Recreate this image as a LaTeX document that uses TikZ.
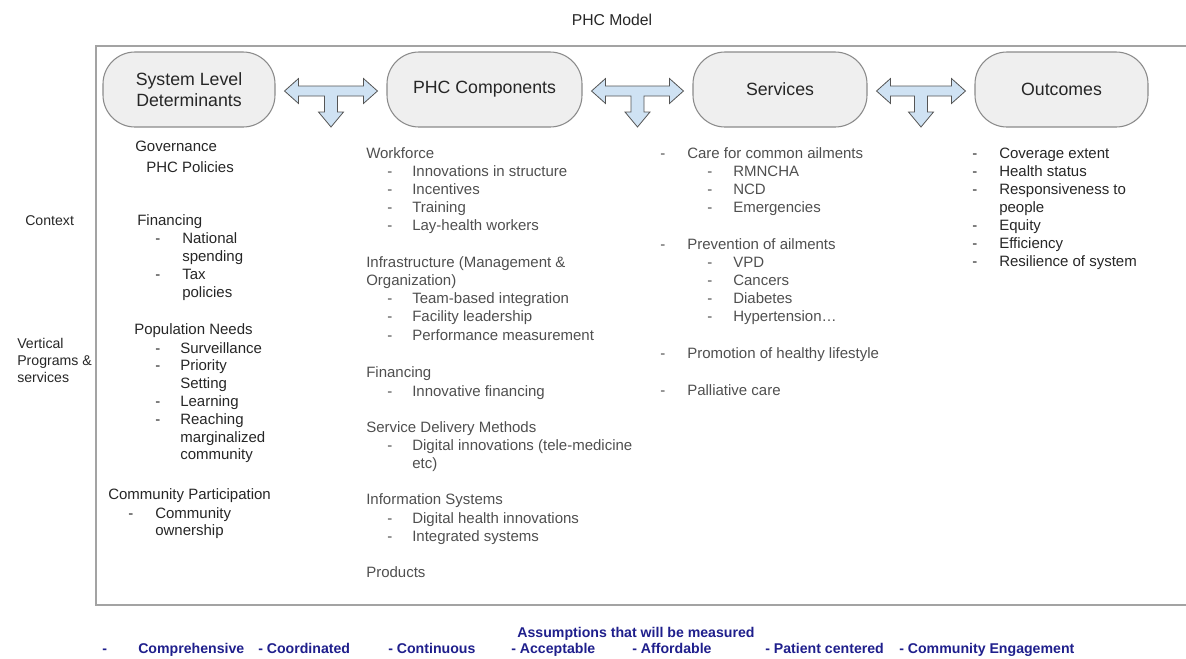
\documentclass[tikz,border=0pt]{standalone}
\usepackage{fontspec}
\setmainfont{Liberation Sans}
\usetikzlibrary{calc}

\definecolor{ink}{HTML}{262626}
\definecolor{soft}{HTML}{4F4F4F}
\definecolor{dashgray}{HTML}{8C8C8C}
\definecolor{framegray}{HTML}{A3A3A3}
\definecolor{pillfill}{HTML}{EFEFEF}
\definecolor{pillline}{HTML}{8A8A8A}
\definecolor{arrowfill}{HTML}{CFE2F3}
\definecolor{arrowline}{HTML}{555555}
\definecolor{navy}{HTML}{1F1F8C}

\tikzset{
  pill/.style={draw=pillline, fill=pillfill, line width=0.8pt, rounded corners=24pt,
    minimum height=56.25pt, inner sep=0pt, align=center, text=ink,
    font=\fontsize{13.3}{15.8}\selectfont},
  txt/.style={anchor=base west, inner sep=0pt, text=ink, font=\fontsize{11.25}{13.5}\selectfont},
  side/.style={txt, font=\fontsize{10.6}{12.7}\selectfont},
  stxt/.style={txt, text=soft},
  sdash/.style={txt, text=dashgray},
  title/.style={anchor=base, inner sep=0pt, text=ink, font=\fontsize{11.8}{14}\selectfont},
  note/.style={anchor=base west, inner sep=0pt, text=navy, font=\bfseries\fontsize{10.6}{12.7}\selectfont},
  tarrow/.style={draw=arrowline, fill=arrowfill, line width=0.6pt, line join=miter},
  frame/.style={draw=framegray, line width=1.1pt}
}

% double-headed link between two stages, with a branch pointing down
\newcommand\linkarrow[2]{%
  \coordinate (#1#2L) at ($(#1.east)+(9,1.5)$);
  \coordinate (#1#2R) at ($(#2.west)+(-9,1.5)$);
  \coordinate (#1#2M) at ($(#1#2L)!0.5!(#1#2R)$);
  \draw[tarrow] (#1#2L) -- ($(#1#2L)+(14,-12.5)$) -- ($(#1#2L)+(14,-5)$)
    -- ($(#1#2R)+(-14,-5)$) -- ($(#1#2R)+(-14,-12.5)$) -- (#1#2R)
    -- ($(#1#2R)+(-14,12.5)$) -- ($(#1#2R)+(-14,5)$)
    -- ($(#1#2M)+(6.5,5)$) -- ($(#1#2M)+(6.5,21)$) -- ($(#1#2M)+(12.5,21)$)
    -- ($(#1#2M)+(0,36)$) -- ($(#1#2M)+(-12.5,21)$) -- ($(#1#2M)+(-6.5,21)$)
    -- ($(#1#2M)+(-6.5,5)$) -- ($(#1#2L)+(14,5)$) -- ($(#1#2L)+(14,12.5)$) -- cycle;
}

% a list line: dash, then its text
\newcommand\dashline[6]{%
  \node[#1] (#2d) at (#3,#5) {-};
  \node[#1] (#2) at (#4,#5) {#6};
}

\begin{document}
\begin{tikzpicture}[x=0.75pt, y=-0.75pt]
\clip (0,0) rectangle (1186,658);

% outer frame (open to the right)
\draw[frame] (1195,46) -- (96,46) -- (96,605) -- (1195,605);

\node[title] (ttl) at (612,25) {PHC Model};

% stages
\node[pill, minimum width=129pt] (sld) at (189,89.5) {System Level\\Determinants};
\node[pill, minimum width=146.25pt] (phc) at (484.5,89.5) {PHC Components};
\node[pill, minimum width=130.5pt] (srv) at (780,89.5) {Services};
\node[pill, minimum width=129.75pt] (out) at (1061.5,89.5) {Outcomes};

% links between stages
\linkarrow{sld}{phc}
\linkarrow{phc}{srv}
\linkarrow{srv}{out}

% side labels
\node[side] (ctx) at (25,225) {Context};
\node[side] (vp1) at (17,348) {Vertical};
\node[side] (vp2) at (17,365) {Programs \&};
\node[side] (vp3) at (17,382) {services};

% system level determinants
\node[txt] (gov) at (135,151) {Governance};
\node[txt] (phcpol) at (146,172) {PHC Policies};
\node[txt] (fina) at (137,225) {Financing};
\dashline{txt}{nat}{155}{182}{243}{National}
\node[txt] (spend) at (182,261) {spending};
\dashline{txt}{tax}{155}{182}{279}{Tax}
\node[txt] (taxpol) at (182,297) {policies};
\node[txt] (pop) at (134,334) {Population Needs};
\dashline{txt}{surv}{155}{180}{353}{Surveillance}
\dashline{txt}{prio}{155}{180}{370}{Priority}
\node[txt] (sett) at (180,388) {Setting};
\dashline{txt}{learn}{155}{180}{406}{Learning}
\dashline{txt}{reach}{155}{180}{424}{Reaching}
\node[txt] (marg) at (180,442) {marginalized};
\node[txt] (commu) at (180,459) {community};
\node[txt] (cpart) at (108,499) {Community Participation};
\dashline{txt}{cown}{128}{155}{518}{Community}
\node[txt] (cown2) at (155,535) {ownership};

% PHC components
\node[stxt] (wf) at (366,158) {Workforce};
\dashline{stxt}{wfa}{387}{412}{176}{Innovations in structure}
\dashline{stxt}{wfb}{387}{412}{194}{Incentives}
\dashline{stxt}{wfc}{387}{412}{212}{Training}
\dashline{stxt}{wfd}{387}{412}{230}{Lay-health workers}
\node[stxt] (inf1) at (366,267) {Infrastructure (Management \&};
\node[stxt] (inf2) at (366,285) {Organization)};
\dashline{stxt}{infa}{387}{412}{303}{Team-based integration}
\dashline{stxt}{infb}{387}{412}{321}{Facility leadership}
\dashline{stxt}{infc}{387}{412}{340}{Performance measurement}
\node[stxt] (finb) at (366,377) {Financing};
\dashline{stxt}{fina1}{387}{412}{396}{Innovative financing}
\node[stxt] (sdm) at (366,432) {Service Delivery Methods};
\dashline{stxt}{sdma}{387}{412}{450}{Digital innovations (tele-medicine}
\node[stxt] (sdmb) at (412,468) {etc)};
\node[stxt] (isy) at (366,504) {Information Systems};
\dashline{stxt}{isya}{387}{412}{523}{Digital health innovations}
\dashline{stxt}{isyb}{387}{412}{541}{Integrated systems}
\node[stxt] (prod) at (366,577) {Products};

% services
\dashline{stxt}{care}{660}{687}{158}{Care for common ailments}
\dashline{stxt}{carea}{707}{733}{176}{RMNCHA}
\dashline{stxt}{careb}{707}{733}{194}{NCD}
\dashline{stxt}{carec}{707}{733}{212}{Emergencies}
\dashline{stxt}{prev}{660}{687}{249}{Prevention of ailments}
\dashline{stxt}{preva}{707}{733}{267}{VPD}
\dashline{stxt}{prevb}{707}{733}{285}{Cancers}
\dashline{stxt}{prevc}{707}{733}{303}{Diabetes}
\dashline{stxt}{prevd}{707}{733}{321}{Hypertension…}
\dashline{stxt}{prom}{660}{687}{358}{Promotion of healthy lifestyle}
\dashline{stxt}{pall}{660}{687}{395}{Palliative care}

% outcomes
\dashline{txt}{oa}{972}{999}{158}{Coverage extent}
\dashline{txt}{ob}{972}{999}{176}{Health status}
\dashline{txt}{oc}{972}{999}{194}{Responsiveness to}
\node[txt] (oc2) at (999,212) {people};
\dashline{txt}{od}{972}{999}{230}{Equity}
\dashline{txt}{oe}{972}{999}{248}{Efficiency}
\dashline{txt}{of}{972}{999}{266}{Resilience of system}

% assumptions
\node[note, anchor=base] (asm) at (636,637) {Assumptions that will be measured};
\node[note] (asd) at (102,653) {-};
\node[note] (asa) at (138,653) {Comprehensive};
\node[note] (asb) at (258,653) {- Coordinated};
\node[note] (asc) at (388,653) {- Continuous};
\node[note] (asdd) at (511,653) {- Acceptable};
\node[note] (ase) at (632,653) {- Affordable};
\node[note] (asf) at (765,653) {- Patient centered};
\node[note] (asg) at (899,653) {- Community Engagement};
\end{tikzpicture}
\end{document}
